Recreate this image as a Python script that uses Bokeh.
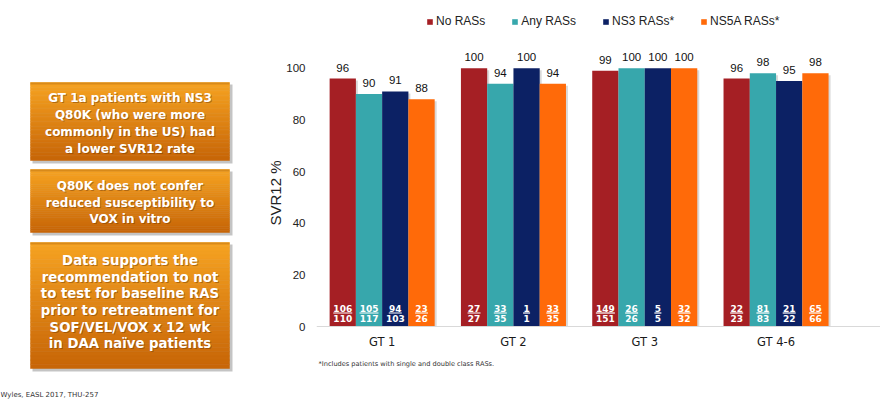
import numpy as np
from bokeh.plotting import figure
from bokeh.models import (ColumnDataSource, Range1d, FixedTicker, Legend, LegendItem,
                          Title, Label)
from bokeh.layouts import row
from bokeh.embed import file_html
from bokeh.resources import INLINE
from bokeh.core.properties import value

# ---------------- data ----------------
groups = ["GT 1", "GT 2", "GT 3", "GT 4-6"]
series_names = ["No RASs", "Any RASs", "NS3 RASs*", "NS5A RASs*"]
svr_no = [96, 100, 99, 96]
svr_any = [90, 94, 100, 98]
svr_ns3 = [91, 100, 100, 95]
svr_ns5a = [88, 94, 100, 98]
num_no = [106, 27, 149, 22]
den_no = [110, 27, 151, 23]
num_any = [105, 33, 26, 81]
den_any = [117, 35, 26, 83]
num_ns3 = [94, 1, 5, 21]
den_ns3 = [103, 1, 5, 22]
num_ns5a = [23, 33, 32, 65]
den_ns5a = [26, 35, 32, 66]
y_ticks = [0, 20, 40, 60, 80, 100]

box_texts = [
    ["GT 1a patients with NS3", "Q80K (who were more", "commonly in the US) had", "a lower SVR12 rate"],
    ["Q80K does not confer", "reduced susceptibility to", "VOX in vitro"],
    ["Data supports the", "recommendation to not", "to test for baseline RAS",
     "prior to retreatment for", "SOF/VEL/VOX x 12 wk", "in DAA na\u00efve patients"],
]
footnote = "*Includes patients with single and double class RASs."
source_note = "Wyles, EASL 2017, THU-257"
y_title = "SVR12 %"

# ---------------- styles ----------------
colors = ["#A51F24", "#37A7AC", "#0C2164", "#FF6A09"]
offsets = [-0.3, -0.1, 0.1, 0.3]
BAR_W = 0.2
PX = 2.583            # pixels per percent
CAT_PX = 131.3        # pixels per category
H = 401
LEFT_W = 240
RIGHT_W = 640
BORDER_L = 76
FRAME_W = RIGHT_W - BORDER_L
y_start = -75 / PX
y_end = (H - 75) / PX
x_end = FRAME_W / CAT_PX

# ---------------- left panel (callout boxes) ----------------
left = figure(width=LEFT_W, height=H, x_range=Range1d(0, LEFT_W), y_range=Range1d(H, 0),
              min_border=0, toolbar_location=None, output_backend="svg",
              outline_line_color=None)
left.axis.visible = False
left.grid.visible = False

box_l, box_r = 30, 229
box_tops = [82, 169, 242]
box_bots = [160, 232, 368]
top_rgb = np.array([246, 163, 34])
bot_rgb = np.array([200, 102, 8])
fsizes = ["12px", "12px", "13.3px"]
spacing = [16.8, 16.3, 16.7]
line_centers = [123.0, 202.0, 301.7]

for bi in range(3):
    t, b = box_tops[bi], box_bots[bi]
    left.quad(left=box_l + 2, right=box_r + 3, top=t + 2, bottom=b + 3,
              fill_color="#555555", fill_alpha=0.35, line_color=None)
    n = 30
    edges = np.linspace(t, b, n + 1)
    fr = np.linspace(0, 1, n)
    cols = ["#%02x%02x%02x" % tuple((top_rgb + (bot_rgb - top_rgb) * f).astype(int)) for f in fr]
    left.quad(left=[box_l] * n, right=[box_r] * n, top=list(edges[:-1]), bottom=list(edges[1:]),
              fill_color=cols, line_color=cols, line_width=0.5)
    # thin darker top edge
    left.quad(left=box_l, right=box_r, top=t, bottom=t + 2,
              fill_color="#D88A1A", line_color=None)
    lines = box_texts[bi]
    k = len(lines)
    ys = [line_centers[bi] + (i - (k - 1) / 2) * spacing[bi] for i in range(k)]
    xs = [(box_l + box_r) / 2] * k
    left.text(x=xs, y=ys, text=lines, text_align="center", text_baseline="middle",
              text_font=value("DejaVu Sans"), text_font_style="bold",
              text_font_size=fsizes[bi], text_color="#6b3300", text_alpha=0.45,
              x_offset=1, y_offset=1)
    left.text(x=xs, y=ys, text=lines, text_align="center", text_baseline="middle",
              text_font=value("DejaVu Sans"), text_font_style="bold",
              text_font_size=fsizes[bi], text_color="white")

left.add_layout(Label(x=0, y=394, text=source_note, text_font="DejaVu Sans",
                      text_font_size="7px", text_color="#333333",
                      text_baseline="middle"))

# ---------------- chart ----------------
p = figure(width=RIGHT_W, height=H, x_range=Range1d(0, x_end), y_range=Range1d(y_start, y_end),
           min_border_left=BORDER_L, min_border_right=0, min_border_top=0, min_border_bottom=0,
           toolbar_location=None, output_backend="svg", outline_line_color=None)
p.grid.visible = False

centers = np.arange(len(groups)) + 0.5
vals = [svr_no, svr_any, svr_ns3, svr_ns5a]
nums = [num_no, num_any, num_ns3, num_ns5a]
dens = [den_no, den_any, den_ns3, den_ns5a]

renderers = []
for si in range(4):
    xs = centers + offsets[si]
    src = ColumnDataSource(dict(
        x=xs, top=vals[si], lab=[str(v) for v in vals[si]],
        num=[str(v) for v in nums[si]], den=[str(v) for v in dens[si]],
        dash=[6.0 * len(str(v)) + 1 for v in nums[si]],
        sx=xs + 2 / CAT_PX, stop=[v - 2 / PX for v in vals[si]],
    ))
    p.vbar(x="sx", top="stop", bottom=0, width=BAR_W, source=src,
           fill_color="#000000", fill_alpha=0.15, line_color=None)
    r = p.vbar(x="x", top="top", bottom=0, width=BAR_W, source=src,
               fill_color=colors[si], line_color=None)
    renderers.append(r)
    p.text(x="x", y="top", text="lab", source=src, text_align="center",
           text_baseline="middle", y_offset=-11, text_font=value("Liberation Sans"),
           text_font_size="11.5px", text_color="#111111")
    p.text(x="x", y=0, text="num", source=src, text_align="center",
           text_baseline="middle", y_offset=-18, text_font=value("DejaVu Sans"),
           text_font_style="bold", text_font_size="9px", text_color="white")
    p.text(x="x", y=0, text="den", source=src, text_align="center",
           text_baseline="middle", y_offset=-8.5, text_font=value("DejaVu Sans"),
           text_font_style="bold", text_font_size="9px", text_color="white")
    p.scatter(x="x", y=13.5 / PX, size="dash", marker="dash", source=src,
              line_color="white", line_width=1.2)

# x axis at y = 0
p.xaxis.fixed_location = 0
p.xaxis.ticker = FixedTicker(ticks=list(centers))
p.xaxis.major_label_overrides = {float(c): g for c, g in zip(centers, groups)}
p.xaxis.major_tick_out = 0
p.xaxis.major_tick_in = 0
p.xaxis.minor_tick_out = 0
p.xaxis.minor_tick_in = 0
p.xaxis.axis_line_color = "#D9D9D9"
p.xaxis.major_label_standoff = 8
p.xaxis.major_label_text_font = "DejaVu Sans"
p.xaxis.major_label_text_font_size = "11.5px"
p.xaxis.major_label_text_color = "#1a1a1a"

# y axis
p.yaxis.ticker = FixedTicker(ticks=y_ticks)
p.yaxis.axis_line_color = None
p.yaxis.major_tick_out = 0
p.yaxis.major_tick_in = 0
p.yaxis.minor_tick_out = 0
p.yaxis.minor_tick_in = 0
p.yaxis.major_label_standoff = 11
p.yaxis.major_label_text_font = "Liberation Sans"
p.yaxis.major_label_text_font_size = "11.5px"
p.yaxis.major_label_text_color = "#222222"
p.add_layout(Title(text=y_title, align="left", offset=176, standoff=0,
                   text_font="Liberation Sans", text_font_size="15px",
                   text_font_style="normal", text_color="#222222"), "left")

legend = Legend(items=[LegendItem(label=n, renderers=[r]) for n, r in zip(series_names, renderers)],
                location=(110, 373), orientation="horizontal", glyph_width=7, glyph_height=7,
                label_standoff=3, spacing=26, padding=0, margin=0, label_height=14,
                border_line_color=None, background_fill_alpha=0,
                label_text_font="Liberation Sans", label_text_font_size="12px",
                label_text_color="#222222")
p.add_layout(legend)

p.add_layout(Label(x=2 / CAT_PX, y=-37 / PX, text=footnote, text_font="DejaVu Sans",
                   text_font_size="6.6px", text_color="#333333", text_baseline="middle"))

layout = row(left, p)
open("out.html", "w").write(file_html(layout, INLINE))
